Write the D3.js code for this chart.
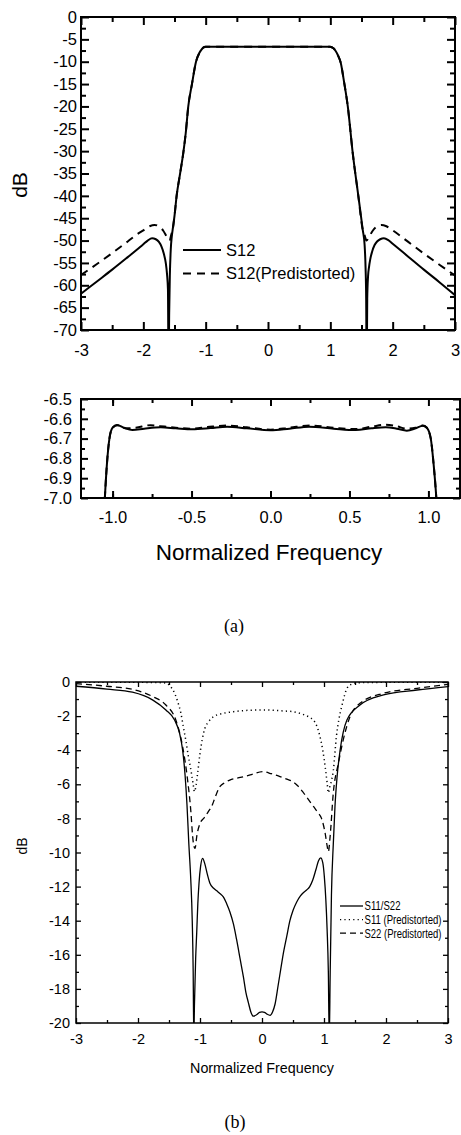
<!DOCTYPE html>
<html><head><meta charset="utf-8">
<script src="https://cdn.jsdelivr.net/npm/d3@7"></script>
<style>
body{margin:0;background:#fff}
svg{display:block}
text{font-family:"Liberation Sans",Arial,sans-serif;fill:#000}
</style>
</head><body>
<svg id="c" width="461" height="1135"></svg>
<script>
// ---------- DATA ----------
// (a) S12 transmission, dB vs normalized frequency
const s12 = [[-3,-61.9],[-2.75,-59.2],[-2.5,-56.5],[-2.25,-53.7],[-2.1,-52.0],[-2.0,-50.8],[-1.93,-50.0],[-1.86,-49.5],[-1.8,-49.7],[-1.75,-50.3],[-1.71,-51.3],[-1.67,-53.0],[-1.64,-55.0],[-1.62,-57.5],[-1.605,-61.0],[-1.595,-80],[-1.585,-66],[-1.575,-58],[-1.56,-52],[-1.545,-49.3],[-1.53,-47.6],[-1.5,-44.5],[-1.466,-40],[-1.41,-35],[-1.36,-30.5],[-1.32,-26],[-1.279,-20],[-1.22,-15],[-1.155,-10],[-1.1,-8.0],[-1.07,-7.35],[-1.049,-7.0],[-1.036,-6.83],[-1.02,-6.70],[-1.0,-6.645],[-0.973,-6.631],[-0.93,-6.645],[-0.874,-6.657],[-0.8,-6.65],[-0.695,-6.643],[-0.6,-6.648],[-0.495,-6.653],[-0.38,-6.647],[-0.275,-6.640],[-0.15,-6.648],[0,-6.658],[0.12,-6.65],[0.245,-6.640],[0.4,-6.65],[0.54,-6.657],[0.64,-6.648],[0.73,-6.643],[0.8,-6.65],[0.863,-6.66],[0.92,-6.648],[0.964,-6.635],[0.99,-6.645],[1.015,-6.70],[1.033,-6.83],[1.05,-7.0],[1.08,-7.5],[1.12,-8.5],[1.166,-10.2],[1.22,-14.5],[1.28,-20],[1.36,-30.5],[1.449,-40],[1.52,-47.6],[1.55,-51],[1.565,-56],[1.575,-63],[1.583,-80],[1.592,-63],[1.605,-58],[1.62,-56],[1.64,-54.2],[1.67,-52.5],[1.71,-51],[1.75,-50.2],[1.8,-49.7],[1.86,-49.5],[1.93,-49.9],[2.0,-50.7],[2.25,-53.6],[2.5,-56.5],[2.75,-59.3],[3.0,-62.2]];
const s12Pre = [[-3,-57.7],[-2.75,-55.3],[-2.5,-52.8],[-2.25,-50.2],[-2.1,-48.6],[-2.0,-47.7],[-1.9,-46.8],[-1.82,-46.5],[-1.75,-46.8],[-1.68,-47.8],[-1.62,-49.2],[-1.58,-50.0],[-1.55,-48.6],[-1.53,-47.6],[-1.5,-44.5],[-1.466,-40],[-1.41,-35],[-1.36,-30.5],[-1.32,-26],[-1.279,-20],[-1.22,-15],[-1.155,-10],[-1.1,-8.0],[-1.07,-7.35],[-1.049,-7.0],[-1.036,-6.83],[-1.02,-6.70],[-1.0,-6.645],[-0.97,-6.632],[-0.93,-6.645],[-0.9,-6.648],[-0.853,-6.645],[-0.76,-6.632],[-0.7,-6.637],[-0.6,-6.645],[-0.5,-6.65],[-0.4,-6.642],[-0.28,-6.634],[-0.15,-6.643],[0,-6.655],[0.12,-6.645],[0.25,-6.634],[0.4,-6.645],[0.54,-6.652],[0.64,-6.64],[0.73,-6.630],[0.8,-6.638],[0.86,-6.65],[0.918,-6.645],[0.964,-6.634],[0.99,-6.645],[1.015,-6.70],[1.033,-6.83],[1.05,-7.0],[1.08,-7.5],[1.12,-8.5],[1.166,-10.2],[1.22,-14.5],[1.28,-20],[1.36,-30.5],[1.449,-40],[1.52,-47.6],[1.55,-48.8],[1.58,-50.0],[1.62,-49.2],[1.68,-47.8],[1.75,-46.8],[1.82,-46.5],[1.9,-46.8],[2.0,-47.7],[2.25,-50.3],[2.5,-52.9],[2.75,-55.4],[3.0,-57.8]];

// (b) reflection
const s11s22 = [[-3,-0.25],[-2.5,-0.42],[-2.09,-0.6],[-1.76,-1.06],[-1.55,-1.64],[-1.41,-2.23],[-1.33,-3.0],[-1.28,-4.0],[-1.24,-5.5],[-1.21,-7.2],[-1.18,-9.5],[-1.15,-11.5],[-1.125,-14],[-1.11,-17],[-1.10,-21],[-1.09,-19],[-1.07,-16.2],[-1.053,-14.7],[-1.035,-13.0],[-1.016,-11.8],[-0.99,-10.8],[-0.957,-10.34],[-0.92,-10.7],[-0.88,-11.3],[-0.84,-11.8],[-0.78,-12.1],[-0.73,-12.25],[-0.68,-12.4],[-0.624,-12.6],[-0.57,-13.0],[-0.516,-13.5],[-0.46,-14.2],[-0.41,-15.1],[-0.35,-16.3],[-0.30,-17.3],[-0.26,-18.2],[-0.22,-18.8],[-0.18,-19.35],[-0.14,-19.6],[-0.08,-19.5],[-0.04,-19.38],[0,-19.35],[0.04,-19.38],[0.08,-19.48],[0.13,-19.55],[0.17,-19.35],[0.21,-18.9],[0.26,-17.8],[0.30,-16.9],[0.34,-16.0],[0.40,-14.9],[0.45,-14.0],[0.50,-13.4],[0.56,-12.9],[0.62,-12.55],[0.67,-12.35],[0.72,-12.2],[0.77,-12.0],[0.82,-11.6],[0.87,-11.0],[0.91,-10.5],[0.947,-10.32],[0.98,-10.6],[1.005,-11.4],[1.03,-12.8],[1.05,-14.5],[1.07,-17],[1.085,-21],[1.10,-17],[1.12,-12.5],[1.15,-9.5],[1.177,-7.3],[1.21,-5.6],[1.26,-4.0],[1.37,-2.23],[1.58,-1.35],[1.96,-0.76],[2.5,-0.47],[3.0,-0.27]];
const s11Pre = [[-3,-0.01],[-2,-0.02],[-1.7,-0.03],[-1.55,-0.06],[-1.48,-0.25],[-1.41,-0.65],[-1.36,-1.15],[-1.31,-1.8],[-1.27,-2.6],[-1.23,-3.4],[-1.19,-4.3],[-1.145,-5.2],[-1.11,-6.0],[-1.09,-6.43],[-1.07,-6.2],[-1.04,-5.4],[-1.0,-4.2],[-0.96,-3.3],[-0.92,-2.7],[-0.876,-2.4],[-0.82,-2.15],[-0.77,-2.0],[-0.7,-1.9],[-0.6,-1.82],[-0.46,-1.74],[-0.3,-1.68],[-0.15,-1.65],[0.02,-1.64],[0.2,-1.66],[0.35,-1.7],[0.5,-1.74],[0.62,-1.85],[0.72,-1.98],[0.78,-2.1],[0.83,-2.23],[0.88,-2.55],[0.935,-3.2],[0.98,-4.0],[1.02,-5.0],[1.05,-5.9],[1.07,-6.5],[1.09,-6.2],[1.12,-5.8],[1.15,-5.2],[1.2,-3.2],[1.24,-2.2],[1.285,-1.45],[1.33,-0.8],[1.37,-0.37],[1.45,-0.12],[1.53,-0.05],[1.7,-0.03],[2.0,-0.02],[3.0,-0.01]];
const s22Pre = [[-3,-0.1],[-2.5,-0.25],[-2.09,-0.43],[-1.76,-0.86],[-1.55,-1.35],[-1.39,-2.23],[-1.28,-3.8],[-1.2,-5.75],[-1.145,-7.7],[-1.12,-9.0],[-1.10,-9.6],[-1.08,-9.76],[-1.05,-9.0],[-1.0,-8.3],[-0.93,-7.95],[-0.866,-7.6],[-0.8,-7.2],[-0.76,-6.8],[-0.68,-6.14],[-0.6,-5.9],[-0.52,-5.75],[-0.35,-5.6],[-0.19,-5.45],[0.02,-5.26],[0.15,-5.38],[0.29,-5.55],[0.4,-5.7],[0.5,-5.85],[0.58,-6.1],[0.67,-6.5],[0.75,-6.9],[0.83,-7.3],[0.9,-7.65],[0.96,-8.0],[1.02,-8.9],[1.05,-9.6],[1.07,-9.95],[1.1,-9.0],[1.15,-6.5],[1.23,-4.8],[1.31,-3.4],[1.42,-2.03],[1.58,-1.25],[1.96,-0.66],[2.5,-0.37],[3.0,-0.14]];

// tick values
const xTicksWide = [-3,-2,-1,0,1,2,3];
const yTicksA = [0,-5,-10,-15,-20,-25,-30,-35,-40,-45,-50,-55,-60,-65,-70];
const xTicksInset = [-1.0,-0.5,0.0,0.5,1.0];
const yTicksInset = [-6.5,-6.6,-6.7,-6.8,-6.9,-7.0];
const yTicksB = [0,-2,-4,-6,-8,-10,-12,-14,-16,-18,-20];

const legendA = ["S12","S12(Predistorted)"];
const legendB = ["S11/S22","S11 (Predistorted)","S22 (Predistorted)"];

// ---------- DRAW ----------
const svg = d3.select("#c");

function minorBetween(ticks, step){
  const out=[]; const s=[...ticks].sort((a,b)=>a-b);
  for(let i=0;i<s.length-1;i++) out.push(+(s[i]+step).toFixed(4));
  return out;
}

function frame(g, x, y, o){
  const [x0,x1]=x.range(), [yb,yt]=y.range();
  const sides=[
    {ax:d3.axisBottom, sc:x, tr:`translate(0,${yb})`, major:o.xMajor, minor:o.xMinor, lab:true, pad:o.xPad, fmt:o.xFmt},
    {ax:d3.axisTop, sc:x, tr:`translate(0,${yt})`, major:o.xMajor, minor:o.xMinor, lab:false},
    {ax:d3.axisLeft, sc:y, tr:`translate(${x0},0)`, major:o.yMajor, minor:o.yMinor, lab:true, pad:o.yPad, fmt:o.yFmt},
    {ax:d3.axisRight, sc:y, tr:`translate(${x1},0)`, major:o.yMajor, minor:o.yMinor, lab:false}
  ];
  sides.forEach(s=>{
    const gm=g.append("g").attr("transform",s.tr)
      .call(s.ax(s.sc).tickValues(s.minor).tickSize(-o.minorLen).tickFormat(""));
    gm.select(".domain").remove();
    gm.selectAll("line").attr("stroke-width",o.tickW);
    const ga=g.append("g").attr("transform",s.tr)
      .call(s.ax(s.sc).tickValues(s.major).tickSize(-o.majorLen)
        .tickPadding(s.pad||3).tickFormat(s.lab?s.fmt:""));
    ga.select(".domain").remove();
    ga.selectAll("line").attr("stroke-width",o.tickW);
    ga.selectAll("text").attr("font-size",o.fs).attr("font-family",null).attr("fill","#000");
  });
  g.append("rect").attr("x",x0).attr("y",yt).attr("width",x1-x0).attr("height",yb-yt)
    .attr("fill","none").attr("stroke","#000").attr("stroke-width",o.frameW);
}

function plotLines(g, id, x, y, series){
  const [x0,x1]=x.range(), [yb,yt]=y.range();
  svg.append("defs").append("clipPath").attr("id",id)
    .append("rect").attr("x",x0).attr("y",yt).attr("width",x1-x0).attr("height",yb-yt);
  const line=d3.line().x(d=>x(d[0])).y(d=>y(d[1])).curve(d3.curveMonotoneX);
  const gl=g.append("g").attr("clip-path",`url(#${id})`);
  series.forEach(s=>{
    gl.append("path").datum(s.data).attr("d",line).attr("fill","none")
      .attr("stroke","#000").attr("stroke-width",s.w)
      .attr("stroke-dasharray",s.dash||null).attr("stroke-linecap",s.cap||"butt")
      .attr("stroke-linejoin","round");
  });
}

// plain hyphen-minus labels, as in the reference
const fmtInt = d=>String(Math.round(d));
const fmt1 = d=>(Math.abs(d)<1e-9?0:d).toFixed(1);

// ----- chart (a) main -----
{
  const x=d3.scaleLinear().domain([-3,3]).range([81,455]);
  const y=d3.scaleLinear().domain([-70,0]).range([330,17]);
  const g=svg.append("g");
  plotLines(g,"clipA",x,y,[
    {data:s12,w:2},
    {data:s12Pre,w:2,dash:"8,6"}
  ]);
  frame(g,x,y,{xMajor:xTicksWide,xMinor:minorBetween(xTicksWide,0.5),
    yMajor:yTicksA,yMinor:minorBetween(yTicksA,2.5),
    majorLen:8,minorLen:5,tickW:2,frameW:2,fs:16.5,xPad:14,yPad:4,xFmt:fmtInt,yFmt:fmtInt});
  g.append("text").attr("transform","translate(27,185) rotate(-90)")
    .attr("text-anchor","middle").attr("font-size",21).text("dB");
  const lg=g.append("g");
  legendA.forEach((t,i)=>{
    const yy=250+i*23.5;
    lg.append("line").attr("x1",183).attr("x2",221).attr("y1",yy).attr("y2",yy)
      .attr("stroke","#000").attr("stroke-width",2).attr("stroke-dasharray",i?"8,6":null);
    lg.append("text").attr("x",226).attr("y",yy).attr("dy","0.35em").attr("font-size",16.5).text(t);
  });
}

// ----- chart (a) inset -----
{
  const x=d3.scaleLinear().domain([-1.2,1.2]).range([81,460]);
  const y=d3.scaleLinear().domain([-7.0,-6.5]).range([498,399]);
  const g=svg.append("g");
  plotLines(g,"clipI",x,y,[
    {data:s12,w:2},
    {data:s12Pre,w:2,dash:"7,5"}
  ]);
  frame(g,x,y,{xMajor:xTicksInset,xMinor:minorBetween([-1.25,...xTicksInset,1.25],0.25),
    yMajor:yTicksInset,yMinor:minorBetween(yTicksInset,0.05),
    majorLen:7,minorLen:4,tickW:2,frameW:2,fs:16.5,xPad:13.5,yPad:9,xFmt:fmt1,yFmt:fmt1});
  g.append("text").attr("x",269).attr("y",560).attr("text-anchor","middle")
    .attr("font-size",22.5).text("Normalized Frequency");
  g.append("text").attr("x",234).attr("y",632).attr("text-anchor","middle")
    .attr("font-size",18).style("font-family","'Liberation Serif','Times New Roman',serif").text("(a)");
}

// ----- chart (b) -----
{
  const x=d3.scaleLinear().domain([-3,3]).range([76,448]);
  const y=d3.scaleLinear().domain([-20,0]).range([1023,682]);
  const g=svg.append("g");
  plotLines(g,"clipB",x,y,[
    {data:s11s22,w:1.3},
    {data:s11Pre,w:1.5,dash:"1.2,3.2",cap:"butt"},
    {data:s22Pre,w:1.3,dash:"6,4"}
  ]);
  frame(g,x,y,{xMajor:xTicksWide,xMinor:minorBetween(xTicksWide,0.5),
    yMajor:yTicksB,yMinor:minorBetween(yTicksB,1),
    majorLen:5,minorLen:3,tickW:1.3,frameW:1.5,fs:14.5,xPad:10.5,yPad:6,xFmt:fmtInt,yFmt:fmtInt});
  g.append("text").attr("transform","translate(27,846) rotate(-90)")
    .attr("text-anchor","middle").attr("font-size",14).text("dB");
  g.append("text").attr("x",262).attr("y",1073).attr("text-anchor","middle")
    .attr("font-size",14.3).text("Normalized Frequency");
  g.append("text").attr("x",235).attr("y",1128).attr("text-anchor","middle")
    .attr("font-size",18).style("font-family","'Liberation Serif','Times New Roman',serif").text("(b)");
  const dashes=[null,"1.2,3.2","6,4"];
  const widths=[36,77,77];
  legendB.forEach((t,i)=>{
    const yy=906+i*13.6;
    g.append("line").attr("x1",340).attr("x2",363).attr("y1",yy).attr("y2",yy)
      .attr("stroke","#000").attr("stroke-width",1.3).attr("stroke-dasharray",dashes[i]);
    g.append("text").attr("x",364.5).attr("y",yy).attr("dy","0.36em").attr("font-size",12)
      .attr("textLength",widths[i]).attr("lengthAdjust","spacingAndGlyphs").text(t);
  });
}
</script>
</body></html>
